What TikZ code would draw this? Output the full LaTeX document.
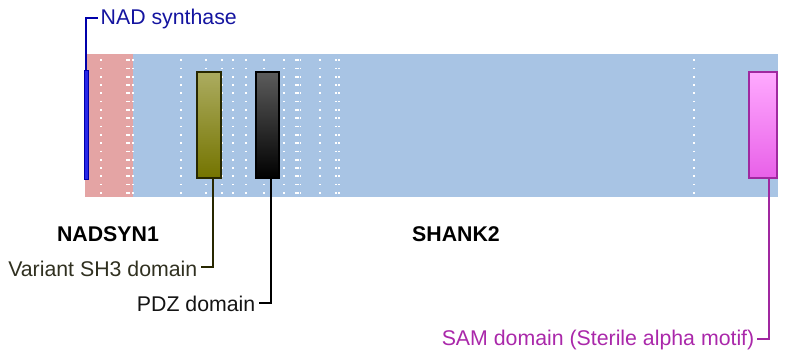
\documentclass[tikz,border=0pt]{standalone}
\usepackage{fontspec}
\setmainfont{Liberation Sans}
\definecolor{barblue}{RGB}{168,196,228}
\definecolor{barpink}{RGB}{228,164,164}
\definecolor{nadfill}{RGB}{40,40,230}
\definecolor{nadline}{RGB}{0,0,170}
\definecolor{nadtext}{RGB}{20,20,160}
\definecolor{olivetop}{RGB}{172,172,96}
\definecolor{olivebot}{RGB}{116,116,0}
\definecolor{oliveline}{RGB}{40,40,0}
\definecolor{olivetext}{RGB}{48,48,32}
\definecolor{pdztop}{RGB}{92,92,92}
\definecolor{pdztext}{RGB}{20,20,20}
\definecolor{samtop}{RGB}{255,170,255}
\definecolor{sambot}{RGB}{232,96,232}
\definecolor{samline}{RGB}{160,40,160}
\definecolor{samtext}{RGB}{170,40,170}
\begin{document}
\begin{tikzpicture}[x=1pt,y=-1pt,
  dom/.style={inner sep=0pt, line width=1.8pt, minimum width=#1},
  dots/.style={white, line width=1.7pt, dash pattern=on 1.7pt off 6.6pt},
  conn/.style={line width=2pt},
  lbl/.style={inner sep=0pt, font=\fontsize{21.3}{25}\selectfont},
  gene/.style={inner sep=0pt, font=\fontsize{21.3}{25}\selectfont\bfseries}]
\useasboundingbox (0,0) rectangle (786,358);
% bar
\fill[barblue] (85,54) rectangle (778,196.7);
\fill[barpink] (85,54) rectangle (133,196.7);
% dotted lines
\foreach \x in {100.7,126.7,129.3,133.3,180.7,205.7,222.3,233.3,246,264.3,284.3,296,298.2,300.5,320,336,339,694}
  \draw[dots] (\x,59.3) -- (\x,195);
% domains
\node[dom=4pt, minimum height=108pt, draw=nadline, fill=nadfill, line width=1pt] (nad) at (86,125) {};
\node[dom=24pt, minimum height=106.3pt, draw=oliveline, top color=olivetop, bottom color=olivebot] (sh3box) at (208.7,125) {};
\node[dom=23pt, minimum height=106.3pt, draw=black, top color=pdztop, bottom color=black] (pdzbox) at (267.2,125) {};
\node[dom=28pt, minimum height=106.3pt, draw=samline, top color=samtop, bottom color=sambot] (sambox) at (762.7,125) {};
% gene labels
\node[gene, anchor=base] (g1) at (108,241) {NADSYN1};
\node[gene, anchor=base] (g2) at (456,241) {SHANK2};
% domain labels
\node[lbl, anchor=base west, text=nadtext] (nadlbl) at (100.5,25) {NAD synthase};
\node[lbl, anchor=base east, text=olivetext] (sh3lbl) at (197.5,276) {Variant SH3 domain};
\node[lbl, anchor=base east, text=pdztext] (pdzlbl) at (255.5,311.5) {PDZ domain};
\node[lbl, anchor=base east, text=samtext] (samlbl) at (754.5,345.5) {SAM domain (Sterile alpha motif)};
% connectors
\draw[conn, nadline] (nad.north) |- ([xshift=-2.5pt,yshift=7pt]nadlbl.base west);
\draw[conn, oliveline] ([xshift=3.8pt]sh3box.south) |- ([xshift=3pt,yshift=9pt]sh3lbl.base east);
\draw[conn, black] ([xshift=3.5pt]pdzbox.south) |- ([xshift=3pt,yshift=9pt]pdzlbl.base east);
\draw[conn, samline] ([xshift=6.3pt]sambox.south) |- ([xshift=2.5pt,yshift=7pt]samlbl.base east);
\end{tikzpicture}
\end{document}
